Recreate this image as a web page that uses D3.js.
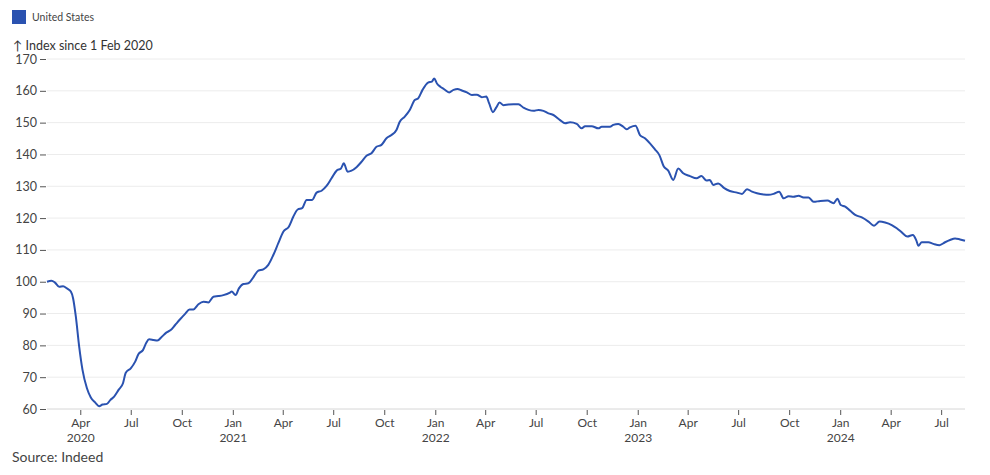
<!DOCTYPE html>
<html>
<head>
<meta charset="utf-8">
<script src="https://cdn.jsdelivr.net/npm/d3@7"></script>
<style>
  html, body { margin: 0; padding: 0; background: #fff; }
  svg { display: block; font-family: Lato, "Open Sans", sans-serif; }
</style>
</head>
<body>
<svg id="chart" width="990" height="475"></svg>
<script>
// ---- data ----
const seriesName = "United States";
const startDate = new Date(2020, 1, 1); // 1 Feb 2020
// days since 1 Feb 2020
const dayOffsets = [0, 8, 14, 22, 29, 36, 43, 47, 52, 58, 64, 72, 79, 87, 94, 100, 108, 114, 121, 129, 137, 142, 151, 159, 165, 173, 179, 184, 192, 199, 207, 215, 223, 231, 240, 249, 257, 264, 273, 282, 291, 300, 309, 318, 330, 333, 340, 346, 354, 363, 372, 381, 390, 399, 408, 417, 426, 436, 444, 452, 460, 468, 478, 486, 495, 504, 513, 522, 530, 535, 542, 549, 558, 567, 576, 585, 594, 603, 612, 621, 630, 636, 645, 654, 663, 669, 677, 687, 694, 698, 703, 709, 716, 725, 733, 740, 748, 757, 766, 775, 784, 792, 797, 804, 810, 816, 823, 832, 841, 850, 859, 868, 877, 886, 895, 904, 913, 925, 934, 943, 955, 964, 970, 982, 994, 1000, 1015, 1021, 1030, 1039, 1045, 1051, 1061, 1069, 1078, 1087, 1096, 1104, 1112, 1120, 1129, 1138, 1147, 1159, 1171, 1180, 1189, 1195, 1201, 1210, 1221, 1231, 1244, 1253, 1262, 1271, 1280, 1292, 1301, 1310, 1320, 1328, 1337, 1346, 1355, 1364, 1373, 1382, 1394, 1407, 1418, 1425, 1431, 1439, 1448, 1457, 1469, 1481, 1491, 1501, 1511, 1523, 1532, 1541, 1551, 1561, 1567, 1571, 1577, 1589, 1598, 1609, 1619, 1628, 1637, 1646, 1655];
const indexValues = [100, 100.3, 99.8, 98.4, 98.6, 97.9, 96.9, 94.8, 89, 79.6, 72.3, 66.5, 63.6, 62, 60.9, 61.4, 61.6, 62.8, 63.9, 66, 68.1, 71.4, 72.8, 74.9, 77.3, 78.5, 80.8, 81.9, 81.7, 81.5, 82.7, 84, 84.8, 86.4, 88.2, 89.9, 91.3, 91.3, 92.9, 93.7, 93.5, 95.3, 95.5, 95.8, 96.6, 96.9, 95.8, 97.9, 99.3, 99.5, 101.4, 103.5, 103.9, 105.3, 108.4, 112.1, 115.7, 117.3, 120.4, 122.7, 123.1, 125.7, 125.7, 128, 128.6, 130.1, 132.5, 134.9, 135.6, 137.2, 134.6, 134.9, 136, 137.7, 139.6, 140.4, 142.4, 143, 145.1, 146.1, 147.7, 150.3, 151.9, 154, 157.1, 157.6, 160.3, 162.6, 162.9, 163.9, 162.3, 161.3, 160.5, 159.5, 160.3, 160.6, 160.1, 159.5, 158.7, 158.8, 158, 158.2, 156.1, 153.3, 154.8, 156.3, 155.5, 155.7, 155.8, 155.8, 154.7, 154, 153.7, 154, 153.7, 152.9, 152.4, 150.8, 149.8, 150.1, 149.6, 148.2, 148.9, 148.9, 148.2, 148.7, 148.7, 149.3, 149.6, 148.7, 147.9, 148.5, 149, 146.1, 145.1, 143.5, 141.6, 139.8, 136.2, 134.9, 132, 135.6, 134.1, 133.2, 132.5, 133.2, 131.8, 132, 130.4, 130.9, 129.4, 128.5, 128, 127.6, 129.1, 128.3, 127.8, 127.4, 127.3, 127.6, 128.3, 126.2, 126.9, 126.7, 127, 126.5, 126.5, 125.1, 125.4, 125.5, 124.7, 126.1, 124.1, 123.6, 122.3, 121, 120.2, 118.9, 117.6, 118.9, 118.6, 117.8, 116.8, 115.5, 114.2, 114.7, 113.1, 111.3, 112.4, 112.4, 111.9, 111.5, 112.4, 113.1, 113.6, 113.3, 112.9];
const yTicks = [60, 70, 80, 90, 100, 110, 120, 130, 140, 150, 160, 170];
const yTitle = "\u2191 Index since 1 Feb 2020";
const sourceText = "Source: Indeed";

// ---- layout ----
const svg = d3.select("#chart");
const mLeft = 47, mRight = 965, mTop = 59, mBottom = 409;
const lineColor = "#2a52b0";

const data = dayOffsets.map((d, i) => ({ date: d3.timeDay.offset(startDate, d), value: indexValues[i] }));

const x = d3.scaleTime()
  .domain([startDate, d3.timeDay.offset(startDate, 1655)])
  .range([mLeft, mRight]);
const y = d3.scaleLinear().domain([60, 170]).range([mBottom, mTop]);

// gridlines
svg.append("g").selectAll("line").data(yTicks).join("line")
  .attr("x1", mLeft).attr("x2", mRight)
  .attr("y1", d => y(d)).attr("y2", d => y(d))
  .attr("stroke", d => d === 60 ? "#d6d6d6" : "#ececec")
  .attr("stroke-width", 1);

// y axis
const yAxis = d3.axisLeft(y).tickValues(yTicks).tickSize(6).tickPadding(3);
const gy = svg.append("g").attr("transform", `translate(${mLeft - 1},0)`).call(yAxis);
gy.select(".domain").remove();
gy.selectAll(".tick line").attr("stroke", "#555");
gy.selectAll(".tick text").attr("fill", "#444").style("font-size", "12.5px")
  .style("font-family", "Lato, sans-serif");

// x axis
const xTicks = d3.timeMonth.every(3).range(new Date(2020, 3, 1), new Date(2024, 7, 1));
const xAxis = d3.axisBottom(x).tickValues(xTicks).tickSize(5).tickPadding(3)
  .tickFormat(d => d3.timeFormat("%b")(d));
const gx = svg.append("g").attr("transform", `translate(0,${mBottom + 1})`).call(xAxis);
gx.select(".domain").remove();
gx.selectAll(".tick line").attr("stroke", "#555");
gx.selectAll(".tick text").attr("fill", "#444").style("font-size", "12px")
  .style("font-family", "Lato, sans-serif");
gx.selectAll(".tick").filter(d => d.getMonth() === 0 || (d.getFullYear() === 2020 && d.getMonth() === 3))
  .append("text")
  .attr("y", 23).attr("dy", "0.71em")
  .attr("fill", "#444").attr("text-anchor", "middle")
  .style("font-size", "12px").style("font-family", "Lato, sans-serif")
  .text(d => d3.timeFormat("%Y")(d));

// line
const line = d3.line().x(d => x(d.date)).y(d => y(d.value)).curve(d3.curveMonotoneX);
svg.append("path").datum(data)
  .attr("d", line)
  .attr("fill", "none")
  .attr("stroke", lineColor)
  .attr("stroke-width", 2)
  .attr("stroke-linejoin", "round");

// legend
svg.append("rect").attr("x", 12).attr("y", 10).attr("width", 14).attr("height", 14).attr("fill", lineColor);
svg.append("text").attr("x", 32).attr("y", 21).attr("fill", "#444")
  .style("font-size", "10.5px").text(seriesName);

// y title
svg.append("text").attr("x", 13).attr("y", 50).attr("fill", "#333")
  .style("font-size", "12.5px").text(yTitle);

// source
svg.append("text").attr("x", 12).attr("y", 462).attr("fill", "#444")
  .style("font-size", "14px").text(sourceText);
</script>
</body>
</html>
